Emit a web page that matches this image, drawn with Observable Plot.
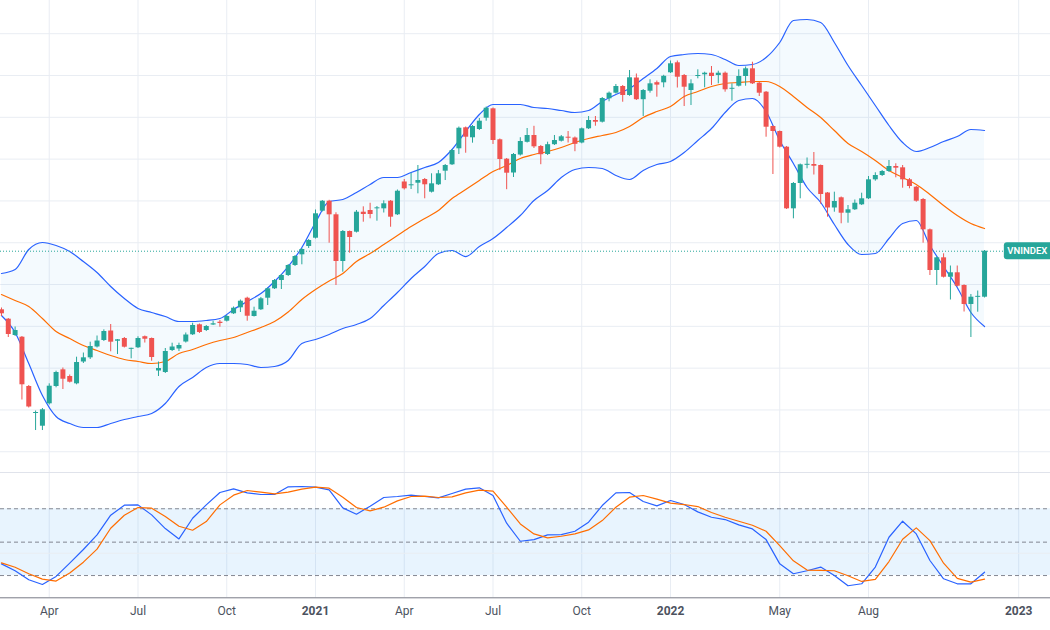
<!DOCTYPE html>
<html>
<head>
<meta charset="utf-8">
<script src="https://cdn.jsdelivr.net/npm/d3@7"></script>
<script src="https://cdn.jsdelivr.net/npm/@observablehq/plot@0.6"></script>
<style>
  html, body { margin: 0; padding: 0; background: #ffffff; }
  #chart { width: 1050px; height: 630px; overflow: hidden; position: relative; }
  #chart svg { display: block; }
  #lower { border-top: 1px solid #e0e3eb; }
</style>
</head>
<body>
<div id="chart"><div id="upper"></div><div id="lower"></div></div>
<script>
// VNINDEX weekly bars, Feb 2020 – Nov 2022 (bar index 0 = week of 17 Feb 2020)
const opens = [939.6,917.1,878.1,874.0,756.1,691.5,661.1,714.7,756.1,796.0,
  780.0,762.5,814.7,824.7,850.6,866.1,888.8,864.4,870.9,845.5,
  848.7,875.2,870.9,793.2,789.6,842.2,845.8,862.5,879.8,903.7,
  890.0,903.2,909.9,912.3,930.0,944.3,967.3,923.5,939.6,967.3,
  989.8,1009.6,1021.6,1045.5,1071.1,1091.0,1110.8,1175.4,1199.3,1166.8,
  1055.1,1126.8,1125.2,1173.0,1177.1,1181.1,1181.1,1199.3,1166.8,1245.3,
  1236.2,1242.4,1251.2,1220.9,1238.6,1271.1,1286.4,1324.7,1374.9,1351.0,
  1370.8,1397.9,1420.3,1346.2,1299.8,1266.8,1309.8,1340.2,1356.5,1330.2,
  1311.0,1334.5,1342.8,1352.4,1350.5,1338.5,1372.5,1392.4,1388.3,1444.3,
  1457.7,1473.7,1452.2,1494.0,1442.1,1462.4,1482.8,1482.5,1506.5,1530.4,
  1500.0,1464.1,1497.6,1501.7,1505.5,1500.0,1505.5,1467.5,1474.4,1497.6,
  1516.0,1481.6,1460.1,1378.0,1366.0,1328.5,1181.1,1241.7,1285.7,1287.1,
  1284.7,1218.9,1183.1,1207.5,1170.6,1178.8,1190.7,1205.1,1250.5,1260.8,
  1270.4,1282.3,1279.2,1250.5,1232.8,1203.4,1130.9,1033.6,1063.9,1017.5,
  1028.1,997.7,952.2,969.7,969.7];
const highs = [943.9,918.7,898.4,875.7,758.5,697.5,703.5,762.5,792.7,800.3,
  783.6,826.2,836.2,862.1,876.9,891.7,904.4,868.5,873.3,847.7,
  875.0,876.9,872.1,814.7,847.0,859.7,859.7,884.1,907.5,905.6,
  902.0,912.3,914.0,925.9,946.3,963.0,969.7,945.8,969.0,991.7,
  1012.0,1024.0,1047.9,1069.4,1086.2,1107.7,1178.3,1201.0,1201.5,1171.6,
  1129.2,1128.0,1177.1,1185.9,1194.5,1186.6,1200.3,1201.0,1226.1,1251.2,
  1266.3,1284.7,1253.6,1264.9,1272.8,1287.1,1323.0,1376.8,1376.8,1380.4,
  1397.1,1424.7,1422.3,1348.1,1301.5,1313.4,1351.2,1373.2,1378.5,1332.6,
  1340.5,1356.5,1356.5,1366.0,1352.9,1374.4,1401.9,1401.9,1447.4,1460.5,
  1478.5,1476.1,1512.0,1503.6,1466.5,1489.7,1486.8,1500.5,1534.7,1534.7,
  1502.4,1489.7,1513.6,1507.9,1521.5,1510.3,1508.4,1480.1,1513.6,1520.3,
  1531.8,1483.3,1461.7,1379.2,1367.2,1330.2,1244.1,1288.3,1302.7,1315.8,
  1285.9,1220.1,1220.9,1209.4,1189.0,1202.2,1218.5,1258.4,1267.3,1272.8,
  1296.7,1288.8,1284.7,1253.6,1234.5,1205.8,1132.8,1065.9,1073.5,1044.3,
  1044.3,999.3,976.2,984.5,1081.4];
const lows = [923.5,873.3,875.7,723.8,704.7,650.8,650.8,711.8,753.0,748.9,
  764.5,760.2,811.1,820.7,848.2,863.7,839.1,832.6,848.2,822.3,
  847.0,860.1,816.6,780.0,787.2,839.8,839.8,860.1,878.1,882.9,
  887.6,902.0,897.9,910.4,928.3,933.1,912.3,922.3,937.9,949.8,
  988.1,988.1,1019.2,1043.1,1047.2,1086.2,1108.9,1173.5,1098.9,997.7,
  1029.5,1074.9,1123.3,1149.1,1157.2,1151.5,1171.1,1137.1,1165.1,1226.1,
  1227.3,1217.0,1205.1,1218.9,1236.9,1248.8,1284.7,1311.0,1314.1,1338.1,
  1368.4,1390.7,1335.0,1272.8,1226.8,1256.0,1307.4,1338.5,1325.4,1286.6,
  1308.6,1332.6,1340.9,1338.5,1317.7,1336.6,1370.8,1378.7,1386.4,1437.1,
  1455.7,1436.1,1450.2,1440.2,1401.9,1457.7,1448.1,1470.6,1504.8,1470.1,
  1425.8,1428.2,1492.1,1470.6,1476.1,1480.1,1460.1,1438.5,1472.5,1474.4,
  1478.5,1449.8,1352.4,1263.2,1326.6,1179.5,1157.2,1205.1,1276.8,1262.0,
  1192.1,1161.1,1173.0,1145.3,1146.7,1177.1,1189.0,1203.4,1247.2,1258.4,
  1268.0,1255.3,1230.4,1229.0,1196.9,1098.9,1021.6,997.7,1015.6,963.0,
  994.1,934.3,873.3,933.8,967.8];
const closes = [930.0,880.5,890.0,760.2,707.1,693.9,700.4,756.8,789.6,773.5,
  766.4,813.5,824.7,851.8,864.9,887.6,862.1,867.8,850.1,847.0,
  870.9,869.2,825.5,799.1,839.8,850.6,854.2,879.3,902.0,885.3,
  899.6,906.1,906.8,923.5,943.4,960.1,924.2,936.2,965.9,989.8,
  1009.6,1021.6,1045.5,1067.0,1083.8,1105.3,1169.2,1199.3,1166.8,1055.1,
  1126.8,1112.5,1173.0,1167.5,1167.5,1183.5,1193.1,1161.1,1223.2,1229.0,
  1238.6,1248.8,1238.6,1240.9,1264.9,1284.7,1320.6,1373.9,1352.4,1378.0,
  1390.7,1421.8,1344.5,1299.1,1266.3,1311.0,1342.1,1356.5,1329.4,1310.5,
  1334.5,1344.5,1353.4,1350.0,1335.4,1372.5,1392.4,1388.3,1445.0,1457.7,
  1473.7,1452.2,1494.5,1442.1,1464.1,1480.1,1477.0,1498.1,1528.0,1495.9,
  1472.0,1480.1,1500.0,1505.5,1497.6,1505.5,1465.8,1468.9,1497.6,1516.0,
  1480.1,1457.7,1376.3,1366.0,1328.5,1181.1,1241.7,1286.4,1287.1,1283.0,
  1215.4,1183.1,1198.6,1170.6,1178.8,1194.5,1205.1,1250.5,1260.8,1270.4,
  1282.3,1278.3,1250.5,1234.5,1199.3,1130.9,1033.6,1063.9,1017.5,1028.1,
  996.0,952.2,969.7,971.4,1079.7];

// Bollinger Bands (20, 2), sampled every second bar
const bandBars = d3.range(0, 145, 2);
const bbUpper = [1026.4,1035.9,1083.8,1100.5,1093.4,1079.0,1055.1,1028.8,995.3,966.6,
  942.7,933.1,923.5,911.6,911.6,914.0,918.7,940.3,959.4,978.5,
  1007.3,1043.1,1088.6,1148.4,1198.6,1203.4,1220.1,1239.3,1256.0,1256.0,
  1268.0,1279.9,1291.9,1323.0,1366.0,1406.7,1430.6,1430.6,1430.6,1423.5,
  1421.1,1416.3,1411.5,1416.3,1437.8,1454.6,1468.9,1492.8,1516.7,1545.4,
  1550.2,1552.6,1550.2,1538.3,1523.9,1526.3,1543.0,1578.9,1631.6,1634.0,
  1626.8,1579.0,1523.9,1476.1,1428.2,1380.4,1339.7,1318.2,1327.8,1342.1,
  1354.1,1370.8,1368.4];
const bbBasis = [976.1,961.8,947.4,918.7,887.6,870.9,854.2,842.2,830.2,820.7,
  815.9,811.1,815.9,835.0,844.6,856.5,866.1,873.3,885.3,897.2,
  911.6,934.3,964.2,988.1,1008.4,1026.4,1055.1,1074.2,1095.8,1117.3,
  1138.8,1158.0,1177.1,1205.8,1227.3,1248.8,1270.4,1284.7,1301.5,1311.0,
  1318.2,1327.8,1339.7,1349.3,1356.5,1363.7,1378.0,1399.5,1413.9,1425.8,
  1449.8,1461.7,1473.7,1480.9,1483.3,1485.6,1485.6,1473.7,1449.8,1423.5,
  1399.5,1368.4,1337.3,1318.2,1296.7,1272.8,1256.0,1239.3,1215.4,1189.0,
  1165.1,1146.0,1134.0];
const bbLower = [925.9,885.3,811.1,734.6,684.3,667.6,658.0,658.0,667.6,677.1,
  684.3,691.5,715.4,756.1,777.6,801.5,811.1,811.1,808.7,801.5,
  803.9,818.3,859.0,868.5,880.5,894.8,904.4,918.7,949.8,981.0,
  1014.4,1043.1,1074.2,1081.4,1067.0,1091.0,1110.1,1136.4,1165.1,1201.0,
  1224.9,1256.0,1275.2,1279.9,1277.5,1260.8,1251.2,1272.8,1287.1,1294.3,
  1315.8,1344.5,1373.2,1411.5,1440.2,1445.0,1413.9,1344.5,1289.5,1232.1,
  1196.2,1143.6,1095.8,1071.8,1074.2,1110.1,1145.9,1153.2,1093.4,1043.1,
  992.9,933.1,899.6];

// Stochastic RSI %K and %D, same sampling
const stochK = [30.5,24.3,16.2,12,19.2,31.1,43.4,56.5,74.2,83.2,
  83.5,74.5,62.2,52.9,71.5,83.5,94.6,97.9,94.3,92.8,
  92.8,99.7,100,99.4,97,80.8,75.1,82.3,90.1,91,
  92.2,91,89.8,93.7,97.6,98.8,91.9,67,50.8,52.3,
  56.5,56.8,59.8,67.9,82.9,94.3,94.6,86.5,82.6,87.4,
  83.8,77.2,72.4,70.3,65.5,61.9,52.3,30.5,21.6,24.3,
  27.6,20.1,10.8,12.6,27.6,54.4,68.8,57.4,33.5,17.1,
  12.6,12.6,23];
const stochD = [31.4,27.4,21.6,16.8,15,22.2,32,43.7,62.5,74.2,
  81.1,80.5,73,64.3,60.7,68.5,83.5,92.2,96.4,94.9,
  93.4,94.9,97.6,99.4,98.5,90.4,81.1,78.1,81.4,87.1,
  91,91.3,90.1,90.7,94.3,96.7,95.8,81.4,66.4,57.4,
  53.8,55.3,57.4,61,69.4,81.4,90.4,91.9,88.6,85,
  83.8,82,76.6,72.4,68.8,65.2,59.8,46.9,33.2,24.9,
  24.6,24.3,19.8,14.7,16.5,32.6,52.6,62.8,51.4,31.1,
  17.4,14.1,16.8];

// Time axis: first bar of each labelled month
const monthTicks = [7, 20, 33, 59, 72, 85, 114, 127];
const monthLabels = ["Apr", "Jul", "Oct", "Apr", "Jul", "Oct", "May", "Aug"];
const yearTicks = [46, 98, 149];
const yearLabels = ["2021", "2022", "2023"];
const priceGrid = [600, 700, 800, 900, 1000, 1100, 1200, 1300, 1400, 1500, 1600];
const stochBands = [80, 50, 20];

const UP = "#26a69a", DOWN = "#ef5350";
const GRID = "#e9edf3";
const xDomain = [-0.14, 153.66];
const yDomain = [550.4, 1679.4];
const upperH = 472;
const ptsPerPx = (yDomain[1] - yDomain[0]) / upperH;

const bars = closes.map((c, i) => {
  const o = opens[i];
  const mid = (o + c) / 2;
  const half = Math.max(Math.abs(o - c), ptsPerPx) / 2;
  return {i, o, h: highs[i], l: lows[i], c, b1: mid - half, b2: mid + half, color: c >= o ? UP : DOWN};
});
const bands = bandBars.map((i, k) => ({i, up: bbUpper[k], mid: bbBasis[k], lo: bbLower[k]}));
const stoch = bandBars.map((i, k) => ({i, k: stochK[k], d: stochD[k]}));
const last = bars[bars.length - 1];
const allTicks = monthTicks.concat(yearTicks);

const font = "Roboto, 'Liberation Sans', sans-serif";

const upper = Plot.plot({
  width: 1050,
  height: upperH,
  margin: 0,
  style: {fontFamily: font, background: "transparent", overflow: "hidden"},
  x: {domain: xDomain, axis: null},
  y: {domain: yDomain, axis: null},
  marks: [
    Plot.ruleY(priceGrid, {stroke: GRID}),
    Plot.ruleX(allTicks, {stroke: GRID}),
    Plot.areaY(bands, {x: "i", y1: "lo", y2: "up", fill: "#2196f3", fillOpacity: 0.05, curve: "monotone-x"}),
    Plot.line(bands, {x: "i", y: "mid", stroke: "#ff6d00", strokeWidth: 1.2, curve: "monotone-x"}),
    Plot.line(bands, {x: "i", y: "up", stroke: "#2962ff", strokeWidth: 1.2, curve: "monotone-x"}),
    Plot.line(bands, {x: "i", y: "lo", stroke: "#2962ff", strokeWidth: 1.2, curve: "monotone-x"}),
    Plot.ruleY([last.c], {stroke: UP, strokeWidth: 1, strokeDasharray: "1,2"}),
    Plot.ruleX(bars, {x: "i", y1: "l", y2: "h", stroke: d => d.color, strokeWidth: 1}),
    Plot.ruleX(bars, {x: "i", y1: "b1", y2: "b2", stroke: d => d.color, strokeWidth: 5}),
    // last-price tag on the price scale
    Plot.rect([last], {x1: d => d.i + 2.9, x2: d => d.i + 14, y1: d => d.c - 8.5 * ptsPerPx, y2: d => d.c + 8.5 * ptsPerPx, fill: UP, rx: 3}),
    Plot.text([last], {x: d => d.i + 2.9, y: "c", dx: 3, text: () => "VNINDEX", textAnchor: "start", fill: "#ffffff", fontSize: 9.5, fontWeight: 600})
  ]
});

const lower = Plot.plot({
  width: 1050,
  height: 157,
  marginTop: 13,
  marginBottom: 32.7,
  marginLeft: 0,
  marginRight: 0,
  style: {fontFamily: font, background: "transparent", overflow: "hidden", color: "#4c525e"},
  x: {domain: xDomain},
  y: {domain: [0, 100], axis: null},
  marks: [
    Plot.ruleX(allTicks, {stroke: GRID, y1: 0, y2: 112}),
    Plot.rect([0], {x1: xDomain[0], x2: xDomain[1], y1: 20, y2: 80, fill: "#2196f3", fillOpacity: 0.1}),
    Plot.ruleY([40], {stroke: GRID}),
    Plot.ruleY(stochBands, {stroke: "#787b86", strokeDasharray: "4,3", strokeOpacity: 0.9}),
    Plot.line(stoch, {x: "i", y: "k", stroke: "#2962ff", strokeWidth: 1.2}),
    Plot.line(stoch, {x: "i", y: "d", stroke: "#ff6d00", strokeWidth: 1.2}),
    Plot.ruleY([0], {stroke: "#787b86"}),
    Plot.axisX(monthTicks, {anchor: "bottom", tickSize: 0, tickPadding: 9, fontSize: 12, label: null,
      tickFormat: d => monthLabels[monthTicks.indexOf(d)]}),
    Plot.axisX(yearTicks, {anchor: "bottom", tickSize: 0, tickPadding: 9, fontSize: 12, fontWeight: "bold", label: null,
      tickFormat: d => yearLabels[yearTicks.indexOf(d)]})
  ]
});

document.getElementById("upper").appendChild(upper);
document.getElementById("lower").appendChild(lower);
</script>
</body>
</html>
